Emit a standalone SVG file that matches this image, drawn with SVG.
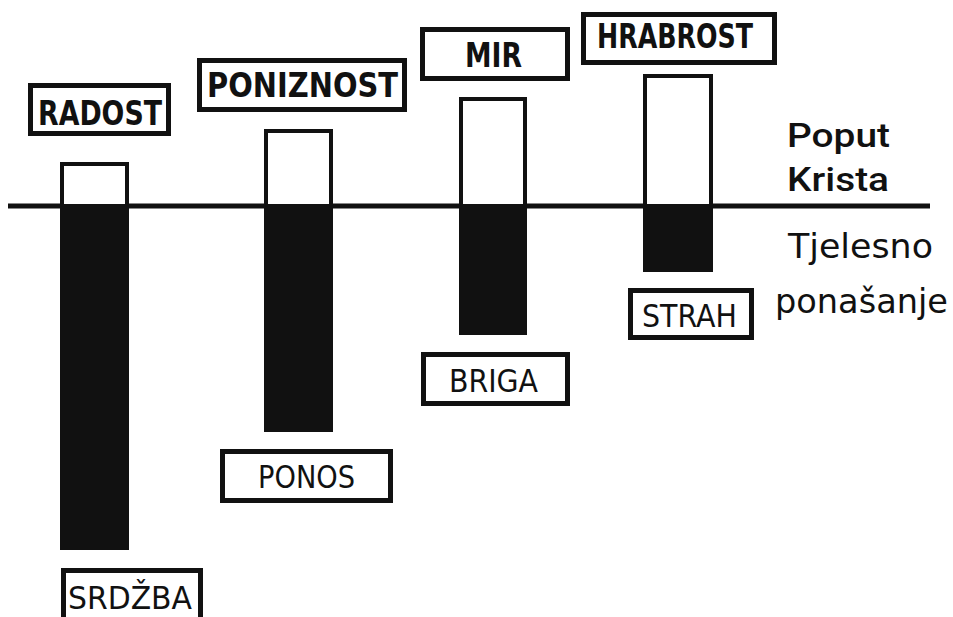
<svg xmlns="http://www.w3.org/2000/svg" width="953" height="617" viewBox="0 0 953 617">
<style>
.lbl{fill:#fff;stroke:#111;stroke-width:5}
.bw{fill:#fff;stroke:#111;stroke-width:4}
.bb{fill:#111}
.deco{font-family:"DejaVu Sans",sans-serif;font-weight:bold;font-size:34px;fill:#111;text-anchor:middle}
.hand{font-family:"DejaVu Sans",sans-serif;font-size:32px;fill:#111;text-anchor:middle}
.side{font-family:Roboto,"Liberation Sans",sans-serif;font-weight:500;font-size:34px;fill:#111}
.script{font-family:"DejaVu Sans",sans-serif;font-size:34px;fill:#111}
</style>
<rect width="953" height="617" fill="#fff"/>
<g id="connectors">
<line x1="8" y1="206" x2="930" y2="206" stroke="#111" stroke-width="5"/>
</g>
<g id="bar-radost">
<rect class="bw" x="62" y="164" width="65" height="42"/>
<rect class="bb" x="60" y="206" width="69" height="344"/>
</g>
<g id="bar-poniznost">
<rect class="bw" x="266" y="131" width="65" height="75"/>
<rect class="bb" x="264" y="206" width="69" height="226"/>
</g>
<g id="bar-mir">
<rect class="bw" x="461" y="99" width="64" height="107"/>
<rect class="bb" x="459" y="206" width="68" height="129"/>
</g>
<g id="bar-hrabrost">
<rect class="bw" x="645" y="76" width="66" height="130"/>
<rect class="bb" x="643" y="206" width="70" height="66"/>
</g>
<g id="radost">
<rect class="lbl" x="30.5" y="85.5" width="138" height="48"/>
<text class="deco" x="100" y="125" textLength="124" lengthAdjust="spacingAndGlyphs">RADOST</text>
</g>
<g id="poniznost">
<rect class="lbl" x="199.5" y="60.5" width="205" height="49"/>
<text class="deco" x="302.5" y="97" font-size="32" textLength="191" lengthAdjust="spacingAndGlyphs">PONIZNOST</text>
</g>
<g id="mir">
<rect class="lbl" x="422.5" y="29.5" width="145" height="49"/>
<text class="deco" x="493.5" y="67" font-size="30" textLength="57" lengthAdjust="spacingAndGlyphs">MIR</text>
</g>
<g id="hrabrost">
<rect class="lbl" x="583.5" y="14.5" width="191" height="48"/>
<text class="deco" x="675" y="48" font-size="31" textLength="156" lengthAdjust="spacingAndGlyphs">HRABROST</text>
</g>
<g id="ponos">
<rect class="lbl" x="222.5" y="451.5" width="168" height="49"/>
<text class="hand" x="306.5" y="488" textLength="97" lengthAdjust="spacingAndGlyphs">PONOS</text>
</g>
<g id="briga">
<rect class="lbl" x="423.5" y="354.5" width="144" height="49"/>
<text class="hand" x="493.5" y="392" textLength="89" lengthAdjust="spacingAndGlyphs">BRIGA</text>
</g>
<g id="strah">
<rect class="lbl" x="630.5" y="290.5" width="121" height="47"/>
<text class="hand" x="689.5" y="327" textLength="95" lengthAdjust="spacingAndGlyphs">STRAH</text>
</g>
<g id="srdzba">
<rect class="lbl" x="63.5" y="570.5" width="137" height="60"/>
<text class="hand" x="130" y="609" font-size="33" textLength="124" lengthAdjust="spacingAndGlyphs">SRDŽBA</text>
</g>
<g id="poput-krista">
<text class="side" x="787" y="147" textLength="103" lengthAdjust="spacingAndGlyphs">Poput</text>
<text class="side" x="787" y="191" textLength="102" lengthAdjust="spacingAndGlyphs">Krista</text>
</g>
<g id="tjelesno">
<text class="script" x="788" y="258" textLength="145" lengthAdjust="spacingAndGlyphs">Tjelesno</text>
<text class="script" x="775" y="313" textLength="173" lengthAdjust="spacingAndGlyphs">ponašanje</text>
</g>
</svg>
